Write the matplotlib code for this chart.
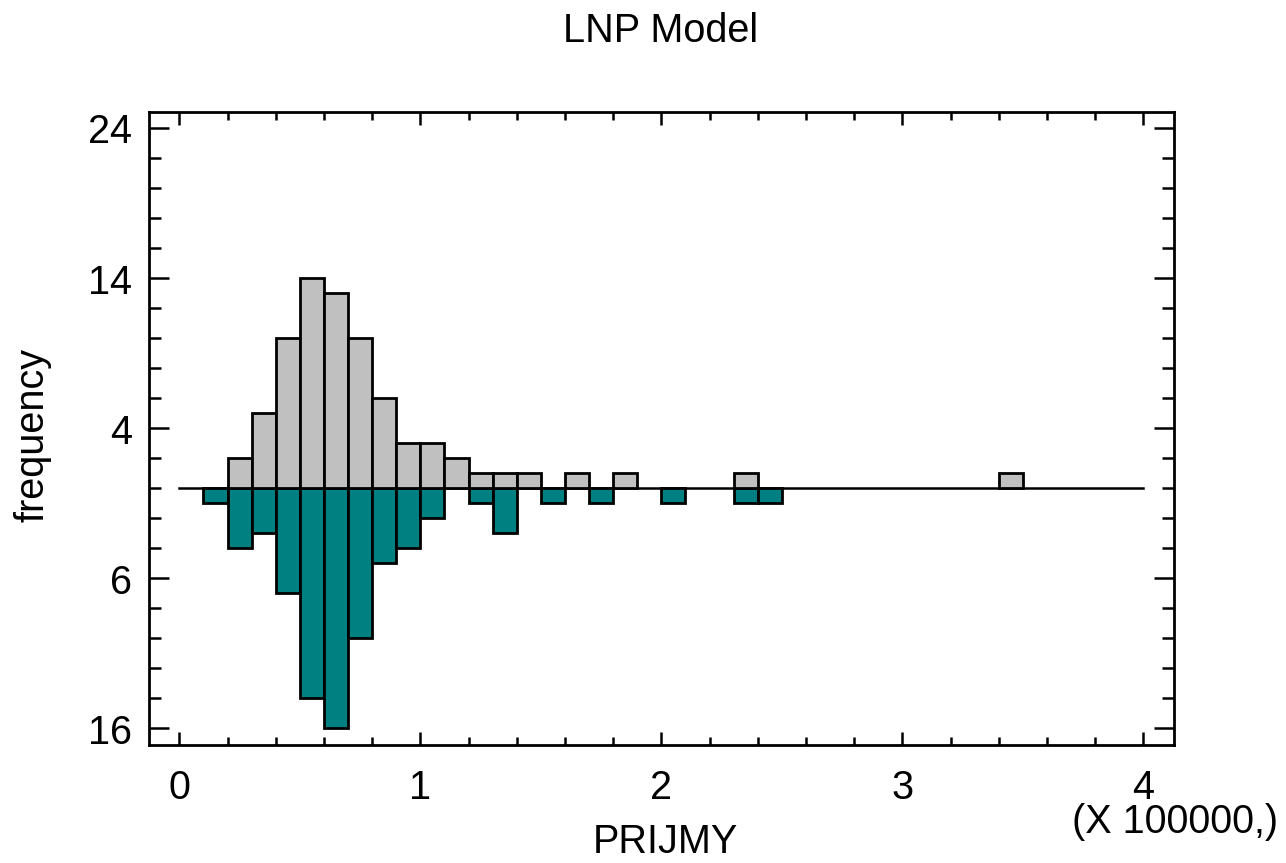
import numpy as np
import matplotlib
matplotlib.use("Agg")
import matplotlib.pyplot as plt
from matplotlib.ticker import FixedLocator, FuncFormatter

plt.rcParams['font.family'] = ['Liberation Sans', 'DejaVu Sans']

# Data (x in units of 100000; bins of width 0.1)
bin_width = 0.1
n_bins = 40
upper_counts = [0, 0, 2, 5, 10, 14, 13, 10, 6, 3,
                3, 2, 1, 1, 1, 0, 1, 0, 1, 0,
                0, 0, 0, 1, 0, 0, 0, 0, 0, 0,
                0, 0, 0, 0, 1, 0, 0, 0, 0, 0]
lower_counts = [0, 1, 4, 3, 7, 14, 16, 10, 5, 4,
                2, 0, 1, 3, 0, 1, 0, 1, 0, 0,
                1, 0, 0, 1, 1, 0, 0, 0, 0, 0,
                0, 0, 0, 0, 0, 0, 0, 0, 0, 0]
x_ticks = [0, 1, 2, 3, 4]
y_ticks = [24, 14, 4, -6, -16]

title = "LNP Model"
xlabel = "PRIJMY"
ylabel = "frequency"
multiplier = "(X 100000,)"

FS = 28.5
W, H = 1286, 863
fig = plt.figure(figsize=(W / 100, H / 100), dpi=100)
ax = fig.add_axes([148.7 / W, 1 - 745 / H, (1174 - 148.7) / W, (745 - 112) / H])

lefts = np.arange(n_bins) * bin_width
up = np.array(upper_counts)
lo = np.array(lower_counts)

ax.plot([0, 4], [0, 0], color='black', lw=1.8, zorder=1)

m = lo > 0
ax.bar(lefts[m], -lo[m], width=bin_width, align='edge', color='#008080',
       edgecolor='black', linewidth=2, zorder=2)
m = up > 0
ax.bar(lefts[m], up[m], width=bin_width, align='edge', color='#C0C0C0',
       edgecolor='black', linewidth=2, zorder=3)

ax.set_xlim(-0.127, 4.127)
ax.set_ylim(-17.1, 25.1)

ax.xaxis.set_major_locator(FixedLocator(x_ticks))
ax.xaxis.set_minor_locator(FixedLocator(np.arange(0, 4.01, 0.2)))
ax.yaxis.set_major_locator(FixedLocator(y_ticks))
ax.yaxis.set_minor_locator(FixedLocator(np.arange(-16, 24.01, 2)))
ax.yaxis.set_major_formatter(FuncFormatter(lambda v, p: f"{abs(v):g}"))
ax.xaxis.set_major_formatter(FuncFormatter(lambda v, p: f"{v:g}"))

ax.tick_params(axis='both', which='both', direction='in', top=True, right=True,
               width=1.8, labelsize=FS)
ax.tick_params(axis='y', which='major', length=14.4, pad=12)
ax.tick_params(axis='y', which='minor', length=8.6)
ax.tick_params(axis='x', which='major', length=9.4, pad=17)
ax.tick_params(axis='x', which='minor', length=5.8)
for s in ax.spines.values():
    s.set_linewidth(2)

fig.text(661 / W, 1 - 42 / H, title, ha='center', va='baseline', fontsize=FS)
fig.text(665 / W, 1 - 853 / H, xlabel, ha='center', va='baseline', fontsize=FS)
fig.text(1278 / W, 1 - 833 / H, multiplier, ha='right', va='baseline', fontsize=FS)
fig.text(33 / W, 428.5 / H, ylabel, ha='center', va='center', rotation=90, fontsize=FS)

fig.savefig("out.png", dpi=100)
